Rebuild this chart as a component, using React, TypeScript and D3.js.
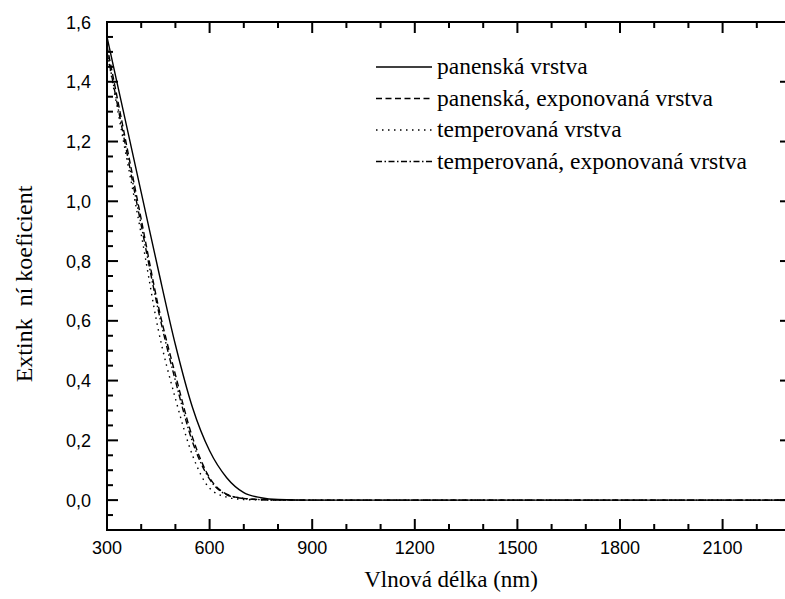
import React from "react";
import * as d3 from "d3";

const wavelengths = [300, 350, 400, 450, 500, 550, 600, 650, 700, 750, 800, 900, 1200, 1500, 1800, 2100, 2300];
const panenska = [1.55, 1.29, 1.03, 0.77, 0.52, 0.31, 0.165, 0.075, 0.025, 0.008, 0.002, 0, 0, 0, 0, 0, 0];
const panenskaExp = [1.52, 1.23, 0.94, 0.65, 0.42, 0.21, 0.075, 0.02, 0.006, 0.002, 0.0005, 0, 0, 0, 0, 0, 0];
const temperovana = [1.5, 1.19, 0.89, 0.57, 0.34, 0.15, 0.04, 0.01, 0.002, 0.0005, 0, 0, 0, 0, 0, 0, 0];
const temperovanaExp = [1.5, 1.21, 0.92, 0.635, 0.4, 0.195, 0.07, 0.018, 0.005, 0.0015, 0.0003, 0, 0, 0, 0, 0, 0];

const seriesNames = [
  "panenská vrstva",
  "panenská, exponovaná vrstva",
  "temperovaná vrstva",
  "temperovaná, exponovaná vrstva",
];
const seriesValues = [panenska, panenskaExp, temperovana, temperovanaExp];
const dashes = ["none", "6,3.5", "1.5,4.5", "6,2.5,1.5,2.5"];

const xTitle = "Vlnová délka (nm)";
const yTitle = "Extink  ní koeficient";

const W = 785;
const H = 599;
const left = 107;
const right = 791;
const top = 22;
const bottom = 530;

export default function App() {
  const x = d3.scaleLinear().domain([300, 2300]).range([left, right]);
  const y = d3.scaleLinear().domain([-0.1, 1.6]).range([bottom, top]);

  const line = d3
    .line<number>()
    .x((_, i) => x(wavelengths[i]))
    .y((d) => y(d))
    .curve(d3.curveMonotoneX);

  const xMajor = d3.range(300, 2301, 300);
  const xMinor = d3.range(300, 2301, 100);
  const yMajor = d3.range(0, 8.5, 1).map((v) => v * 0.2);
  const yMinor = d3.range(-2, 32.5, 1).map((v) => v * 0.05);
  const fmt = (v: number) => d3.format(".1f")(v).replace(".", ",");

  const majLen = 11;
  const minLen = 6;
  const sw = 2;

  return (
    <svg
      width={W}
      height={H}
      style={{ position: "absolute", left: 0, top: 0, background: "#fff" }}
    >
      <defs>
        <clipPath id="plot">
          <rect x={left} y={top} width={right - left} height={bottom - top} />
        </clipPath>
      </defs>

      {seriesValues.map((vals, i) => (
        <path
          key={i}
          d={line(vals) || ""}
          fill="none"
          stroke="#000"
          strokeWidth={1.4}
          strokeDasharray={dashes[i]}
          clipPath="url(#plot)"
        />
      ))}

      {/* frame */}
      <g stroke="#000" strokeWidth={sw} fill="none">
        <line x1={left} x2={left} y1={top} y2={bottom} />
        <line x1={right} x2={right} y1={top} y2={bottom} />
        <line x1={left - 1} x2={right} y1={top} y2={top} />
        <line x1={left - 1} x2={right} y1={bottom} y2={bottom} />
        {xMinor.map((v) => {
          const isMaj = (v - 300) % 300 === 0;
          const l = isMaj ? majLen : minLen;
          return (
            <g key={"xt" + v}>
              <line x1={x(v)} x2={x(v)} y1={bottom} y2={bottom - l} />
              <line x1={x(v)} x2={x(v)} y1={top} y2={top + l} />
            </g>
          );
        })}
        {yMinor.map((v, i) => {
          const isMaj = (i + 2) % 4 === 0 && v >= -0.001;
          const l = isMaj ? majLen : minLen;
          return (
            <g key={"yt" + i}>
              <line x1={left} x2={left + l} y1={y(v)} y2={y(v)} />
              <line x1={right} x2={right - l} y1={y(v)} y2={y(v)} />
            </g>
          );
        })}
      </g>

      <g fontFamily="Liberation Sans, Arial, sans-serif" fontSize={18} fill="#000">
        {xMajor.map((v) => (
          <text key={"xl" + v} x={x(v)} y={554} textAnchor="middle">
            {v}
          </text>
        ))}
        {yMajor.map((v) => (
          <text key={"yl" + v} x={91} y={y(v) + 6.5} textAnchor="end">
            {fmt(v)}
          </text>
        ))}
      </g>

      <g fontFamily="Liberation Serif, Times New Roman, serif" fill="#000">
        <text x={451} y={587} fontSize={23} textAnchor="middle">
          {xTitle}
        </text>
        <text
          transform={`translate(32, 284) rotate(-90)`}
          fontSize={24}
          textAnchor="middle"
          style={{ whiteSpace: "pre" }}
        >
          {yTitle}
        </text>
      </g>

      <g fontFamily="Liberation Serif, Times New Roman, serif" fontSize={23.5} fill="#000">
        {seriesNames.map((name, i) => {
          const ly = 67 + i * 31.5;
          return (
            <g key={"lg" + i}>
              <line
                x1={376}
                x2={432}
                y1={ly}
                y2={ly}
                stroke="#000"
                strokeWidth={1.4}
                strokeDasharray={dashes[i]}
              />
              <text x={437} y={ly + 7}>
                {name}
              </text>
            </g>
          );
        })}
      </g>
    </svg>
  );
}
